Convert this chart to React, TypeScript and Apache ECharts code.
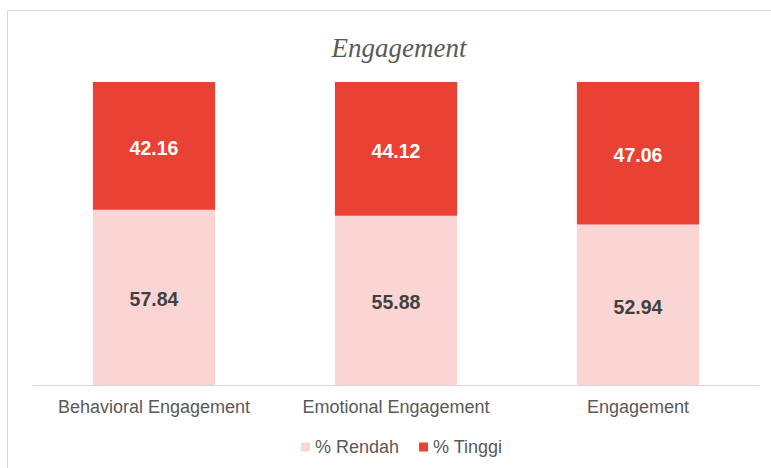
import React, { useEffect, useRef } from "react";
import * as echarts from "echarts";

const categories = ["Behavioral Engagement", "Emotional Engagement", "Engagement"];
const rendah = [57.84, 55.88, 52.94];
const tinggi = [42.16, 44.12, 47.06];

export default function App() {
  const ref = useRef<HTMLDivElement>(null);
  useEffect(() => {
    const chart = echarts.init(ref.current!, null, { renderer: "svg" });
    chart.setOption({
      animation: false,
      backgroundColor: "#ffffff",
      title: {
        text: "Engagement",
        left: 394,
        textAlign: "center",
        top: 29,
        textStyle: {
          fontFamily: "Liberation Serif",
          fontStyle: "italic",
          fontWeight: "normal",
          fontSize: 27,
          color: "#595959",
        },
      },
      graphic: [
        {
          type: "rect",
          shape: { x: 7.5, y: 10.5, width: 800, height: 500 },
          style: { fill: "none", stroke: "#d9d9d9", lineWidth: 1 },
          silent: true,
        },
      ],
      legend: {
        top: 433,
        left: 296,
        itemWidth: 9,
        itemHeight: 9,
        itemGap: 20,
        icon: "rect",
        textStyle: { fontFamily: "Liberation Sans", fontSize: 18, color: "#595959" },
        data: ["% Rendah", "% Tinggi"],
      },
      grid: { left: 33, right: 12, top: 82, bottom: 83 },
      xAxis: {
        type: "category",
        data: categories,
        axisLine: { lineStyle: { color: "#d9d9d9" } },
        axisTick: { show: false },
        axisLabel: {
          interval: 0,
          hideOverlap: false,
          fontFamily: "Liberation Sans",
          fontSize: 18,
          color: "#595959",
          margin: 13,
        },
      },
      yAxis: { type: "value", min: 0, max: 100, show: false, splitLine: { show: false } },
      series: [
        {
          name: "% Rendah",
          type: "bar",
          stack: "s",
          barWidth: "50.5%",
          data: rendah,
          itemStyle: { color: "#fad5d3" },
          label: {
            show: true,
            position: "inside",
            fontFamily: "Liberation Sans",
            fontWeight: "bold",
            fontSize: 19.5,
            color: "#404040",
            offset: [0, 2],
            formatter: (p: any) => p.value.toFixed(2),
          },
        },
        {
          name: "% Tinggi",
          type: "bar",
          stack: "s",
          data: tinggi,
          itemStyle: { color: "#ea4135" },
          label: {
            show: true,
            position: "inside",
            fontFamily: "Liberation Sans",
            fontWeight: "bold",
            fontSize: 19.5,
            color: "#ffffff",
            offset: [0, 2],
            formatter: (p: any) => p.value.toFixed(2),
          },
        },
      ],
    });
    return () => chart.dispose();
  }, []);
  return (
    <div
      ref={ref}
      style={{ position: "fixed", left: 0, top: 0, width: 771, height: 468 }}
    />
  );
}
